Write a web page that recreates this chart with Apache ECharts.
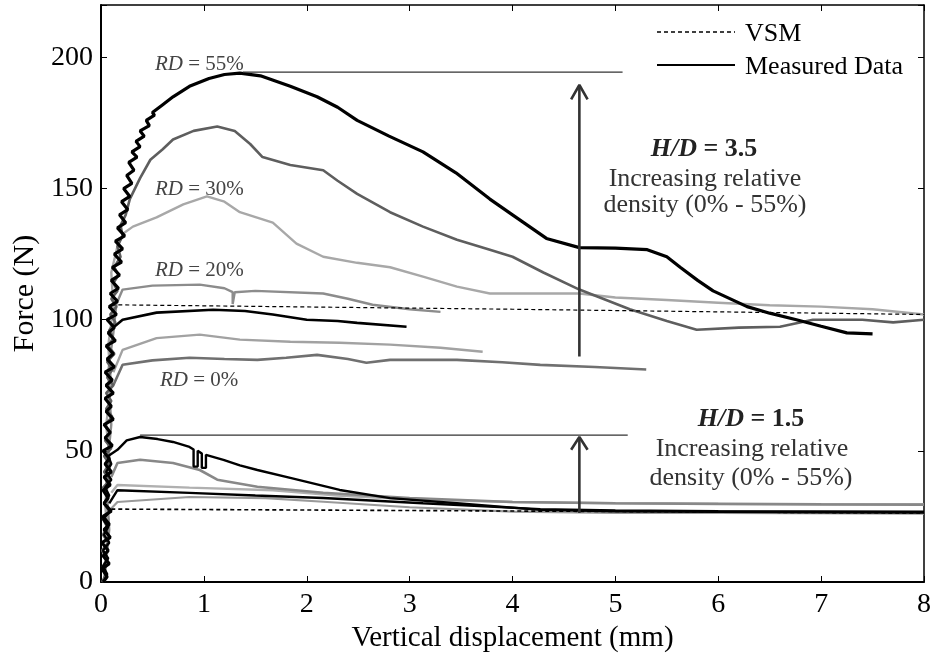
<!DOCTYPE html>
<html>
<head>
<meta charset="utf-8">
<script src="https://cdn.jsdelivr.net/npm/echarts@6/dist/echarts.min.js"></script>
<style>html,body{margin:0;padding:0;background:#fff}#c{width:936px;height:659px}</style>
</head>
<body>
<div id="c"></div>
<script>
// ---- axis ticks ----
const xTicks = [0, 1, 2, 3, 4, 5, 6, 7, 8];
const yTicks = [0, 50, 100, 150, 200];

// ---- H/D = 3.5 measured curves [displacement mm, force N] ----
const hd35_rd55 = [[0.02,0],[0.06,2],[0.01,5],[0.08,7],[0.02,10],[0.07,12],[0.01,15],[0.09,17],[0.03,20],[0.08,22],[0.02,25],[0.1,27],[0.03,30],[0.07,32],[0.02,35],[0.09,37],[0.03,40],[0.1,42],[0.04,45],[0.08,47],[0.02,50],[0.11,52],[0.04,55],[0.09,57],[0.03,60],[0.12,62],[0.05,65],[0.1,67],[0.04,70],[0.12,72],[0.05,75],[0.11,77],[0.04,80],[0.13,82],[0.06,85],[0.12,87],[0.05,90],[0.14,92],[0.07,95],[0.13,97],[0.06,100],[0.15,102],[0.08,105],[0.16,107],[0.09,110],[0.17,112],[0.1,115],[0.18,117],[0.11,120],[0.2,122],[0.13,125],[0.21,127],[0.14,130],[0.23,132],[0.16,135],[0.24,137],[0.18,140],[0.26,142],[0.2,145],[0.28,147],[0.22,150],[0.3,152],[0.25,155],[0.32,157],[0.27,160],[0.35,162],[0.3,164],[0.38,166],[0.34,168],[0.42,170],[0.38,172],[0.47,174],[0.44,176],[0.52,178],[0.5,179],[0.6,182],[0.7,185],[0.86,189],[1.05,192],[1.2,193.5],[1.35,194],[1.55,193],[1.84,189],[2.1,185],[2.3,181],[2.49,176],[2.8,170],[3.13,164],[3.45,156],[3.78,146],[4.0,140],[4.33,131],[4.65,127.5],[5.0,127.3],[5.31,126.7],[5.5,124],[5.63,120],[5.8,115],[5.95,111],[6.28,105],[6.5,102.5],[6.76,100],[7.0,97.5],[7.25,95],[7.5,94.6]];
const hd35_rd45 = [[0.01,0],[0.05,3],[0.02,6],[0.06,9],[0.01,12],[0.07,15],[0.02,18],[0.06,21],[0.02,24],[0.08,27],[0.03,30],[0.07,33],[0.02,36],[0.09,39],[0.03,42],[0.08,45],[0.03,48],[0.1,51],[0.04,54],[0.09,57],[0.04,60],[0.11,63],[0.05,66],[0.1,69],[0.05,72],[0.12,75],[0.06,78],[0.11,81],[0.06,84],[0.13,87],[0.07,90],[0.12,93],[0.08,96],[0.14,99],[0.09,102],[0.15,105],[0.1,108],[0.16,111],[0.12,114],[0.17,117],[0.13,120],[0.19,124],[0.16,128],[0.21,132],[0.19,136],[0.24,140],[0.28,146],[0.38,154],[0.48,161],[0.6,165],[0.7,168.7],[0.9,172],[1.13,173.7],[1.3,172],[1.45,167],[1.57,162],[1.84,159],[2.16,157],[2.3,153],[2.49,148],[2.81,141],[3.13,135.5],[3.46,130.5],[3.78,126.7],[4.0,124],[4.3,118],[4.65,111.5],[5.14,104],[5.5,99.5],[5.79,96.2],[6.2,97],[6.6,97.3],[6.92,100],[7.4,100],[7.7,99],[8.0,100]];
const hd35_rd30 = [[0.03,0],[0.07,15],[0.04,30],[0.09,45],[0.05,60],[0.1,75],[0.07,90],[0.12,105],[0.1,118],[0.16,128],[0.22,133],[0.31,135.5],[0.54,139],[0.8,144],[1.03,147],[1.2,145],[1.35,141],[1.67,137],[1.9,129],[2.16,124],[2.49,121.7],[2.81,120],[3.13,116.4],[3.46,112.6],[3.78,110],[4.2,110],[4.65,110],[5.0,108.5],[5.5,107.5],[6.0,106.5],[6.5,105.5],[7.0,105],[7.5,104],[8.0,102]];
const hd35_rd20 = [[0.03,0],[0.08,20],[0.05,40],[0.1,60],[0.07,80],[0.12,95],[0.15,106],[0.21,111.5],[0.5,113],[0.96,113.4],[1.2,112],[1.28,110.5],[1.28,106],[1.3,110.5],[1.5,111],[2.16,110],[2.4,108],[2.64,105.7],[3.0,104],[3.3,103]];
const hd35_rd10 = [[0.12,97],[0.21,100],[0.54,102.7],[1.09,103.8],[1.4,103.3],[1.67,102],[2.0,100],[2.3,99.5],[2.49,98.8],[2.97,97.3]];
const hd35_rd5 = [[0.12,80],[0.21,88.5],[0.54,93],[0.96,94.3],[1.35,92.4],[1.84,91.6],[2.32,91.2],[2.81,90.5],[3.3,89.3],[3.71,87.8]];
const hd35_rd0 = [[0.12,75],[0.21,82.8],[0.5,84.5],[0.86,85.5],[1.2,85],[1.52,84.7],[1.8,85.5],[2.1,86.6],[2.4,85],[2.58,83.6],[2.81,84.7],[3.1,84.7],[3.46,84.7],[3.9,83.8],[4.27,82.8],[4.8,82],[5.3,81]];
const hd35_vsm = [[0.1,105.7],[4.0,104],[8.0,102]];

// ---- H/D = 1.5 measured curves ----
const hd15_a = [[0.03,0],[0.06,3],[0.02,6],[0.07,9],[0.02,12],[0.08,15],[0.03,18],[0.07,21],[0.02,24],[0.09,27],[0.03,30],[0.08,33],[0.04,36],[0.1,39],[0.05,42],[0.1,45],[0.07,48],[0.16,50.4],[0.25,54],[0.38,55.3],[0.55,54.5],[0.7,53.4],[0.86,51.5],[0.9,50.5],[0.9,44],[0.94,44],[0.94,50],[0.98,49],[0.98,43.5],[1.02,43.5],[1.02,48.5],[1.19,46.6],[1.35,44.5],[1.52,42.7],[1.84,39.7],[2.32,35.1],[2.81,32],[3.46,30],[4.27,27.5],[5.0,27],[6.0,26.8],[7.0,26.6],[8.0,26.5]];
const hd15_b = [[0.08,30],[0.16,35],[0.86,34],[1.5,33],[2.16,32],[3.13,30],[4.27,27.8],[5.0,27.3],[6.0,27],[8.0,26.8]];
const hd15_c = [[0.1,40],[0.16,45.4],[0.38,46.6],[0.7,45.4],[0.96,42.7],[1.13,39],[1.52,36.3],[2.16,34],[3.0,32],[4.0,30.5],[5.0,30],[6.0,29.8],[7.0,29.6],[8.0,29.5]];
const hd15_d = [[0.1,34],[0.16,37],[0.86,36],[1.67,35],[2.3,33],[3.0,31.5],[4.0,30.5],[5.0,30],[6.0,29.8],[8.0,29.6]];
const hd15_e = [[0.1,28],[0.16,30.5],[0.86,32.4],[1.6,32],[2.2,30.5],[3.0,28.5],[4.0,26.8],[5.0,26.3],[6.0,26.3],[8.0,26.1]];
const hd15_vsm = [[0.1,27.8],[8.0,26.3]];

// ---- annotation guides ----
const peak35 = [[1.38,194.4],[5.07,194.4]];
const peak15 = [[0.38,56],[5.12,56]];
const arrow35 = [[4.65,86],[4.65,189]];
const arrow35Head = [[4.57,184],[4.65,189.5],[4.73,184]];
const arrow15 = [[4.65,26.3],[4.65,55]];
const arrow15Head = [[4.57,50.4],[4.65,55.3],[4.73,50.4]];

// ---- legend entries ----
const legendNames = ['VSM', 'Measured Data'];

const FONT = "'Liberation Serif', 'Times New Roman', serif";

function curve(name, data, color, width, dashed, z) {
  return {
    type: 'line', name: name, data: data, showSymbol: false, symbol: 'none',
    animation: false, silent: true, z: z || 2,
    lineStyle: { color: color, width: width, type: dashed ? [4, 3] : 'solid' },
    itemStyle: { color: color }
  };
}

const series = [
  curve('Measured Data', hd35_rd55, '#000000', 3.2, false, 6),
  curve('Measured Data', hd35_rd45, '#5e5e5e', 2.6, false, 5),
  curve('Measured Data', hd35_rd30, '#a8a8a8', 2.4, false, 4),
  curve('Measured Data', hd35_rd20, '#8c8c8c', 2.4, false, 4),
  curve('Measured Data', hd35_rd10, '#000000', 2.6, false, 5),
  curve('Measured Data', hd35_rd5, '#a2a2a2', 2.4, false, 4),
  curve('Measured Data', hd35_rd0, '#707070', 2.6, false, 4),
  curve('VSM', hd35_vsm, '#000000', 1.2, true, 7),
  curve('Measured Data', hd15_e, '#9a9a9a', 2.2, false, 3),
  curve('Measured Data', hd15_d, '#b0b0b0', 2.4, false, 3),
  curve('Measured Data', hd15_c, '#888888', 2.6, false, 4),
  curve('Measured Data', hd15_b, '#000000', 2.4, false, 5),
  curve('Measured Data', hd15_a, '#000000', 2.4, false, 6),
  curve('VSM', hd15_vsm, '#000000', 1.6, true, 7),
  curve('guide', peak35, '#333333', 1.2, false, 8),
  curve('guide', peak15, '#333333', 1.2, false, 8),
  curve('guide', arrow35, '#333333', 2.6, false, 8),
  curve('guide', arrow35Head, '#333333', 2.6, false, 8),
  curve('guide', arrow15, '#333333', 2.6, false, 8),
  curve('guide', arrow15Head, '#333333', 2.6, false, 8)
];

const axisCommon = {
  type: 'value', splitLine: { show: false },
  axisLine: { show: true, onZero: false, lineStyle: { color: '#000', width: 2 } },
  axisTick: { show: true, inside: true, length: 6, lineStyle: { color: '#000', width: 1 } }
};

function richText(x, y, text, opts) {
  return Object.assign({ type: 'text', x: x, y: y, z: 100, silent: true }, { style: Object.assign({ text: text, fontFamily: FONT }, opts) });
}

const chart = echarts.init(document.getElementById('c'), null, { renderer: 'canvas' });
chart.setOption({
  animation: false,
  backgroundColor: '#ffffff',
  grid: { left: 101, right: 12, top: 5, bottom: 77 },
  xAxis: [
    Object.assign({}, axisCommon, {
      min: xTicks[0], max: xTicks[xTicks.length - 1], interval: 1, position: 'bottom',
      name: 'Vertical displacement (mm)', nameLocation: 'middle', nameGap: 39,
      nameTextStyle: { fontFamily: FONT, fontSize: 29, color: '#000' },
      axisLabel: { fontFamily: FONT, fontSize: 28, color: '#000', margin: 9 }
    }),
    Object.assign({}, axisCommon, {
      min: xTicks[0], max: xTicks[xTicks.length - 1], interval: 1, position: 'top',
      axisLine: { show: true, onZero: false, lineStyle: { color: '#000', width: 1.5 } },
      axisLabel: { show: false }
    })
  ],
  yAxis: [
    Object.assign({}, axisCommon, {
      min: 0, max: 220, interval: 50, position: 'left',
      name: 'Force (N)', nameLocation: 'middle', nameGap: 60,
      nameTextStyle: { fontFamily: FONT, fontSize: 30, color: '#000' },
      axisLabel: { fontFamily: FONT, fontSize: 28, color: '#000', margin: 8,
        formatter: function (v) { return yTicks.indexOf(v) >= 0 ? String(v) : ''; } }
    }),
    Object.assign({}, axisCommon, {
      min: 0, max: 220, interval: 50, position: 'right',
      axisLine: { show: true, onZero: false, lineStyle: { color: '#000', width: 1.5 } },
      axisLabel: { show: false }
    })
  ],
  series: series,
  graphic: [
    // legend (drawn as line + text)
    { type: 'line', z: 100, silent: true, shape: { x1: 657, y1: 32, x2: 735, y2: 32 }, style: { stroke: '#000', lineWidth: 1.3, lineDash: [4, 3] } },
    richText(745, 34, legendNames[0], { fontSize: 26, fill: '#000', verticalAlign: 'middle' }),
    { type: 'line', z: 100, silent: true, shape: { x1: 657, y1: 65, x2: 735, y2: 65 }, style: { stroke: '#000', lineWidth: 2 } },
    richText(745, 67, legendNames[1], { fontSize: 26, fill: '#000', verticalAlign: 'middle' }),
    // RD labels
    richText(155, 64, '{i|RD} = 55%', { fontSize: 21, fill: '#444', verticalAlign: 'middle', rich: { i: { fontStyle: 'italic', fontFamily: FONT, fontSize: 21, fill: '#444' } } }),
    richText(155, 189, '{i|RD} = 30%', { fontSize: 21, fill: '#444', verticalAlign: 'middle', rich: { i: { fontStyle: 'italic', fontFamily: FONT, fontSize: 21, fill: '#444' } } }),
    richText(155, 270, '{i|RD} = 20%', { fontSize: 21, fill: '#444', verticalAlign: 'middle', rich: { i: { fontStyle: 'italic', fontFamily: FONT, fontSize: 21, fill: '#444' } } }),
    richText(160, 380, '{i|RD} = 0%', { fontSize: 21, fill: '#444', verticalAlign: 'middle', rich: { i: { fontStyle: 'italic', fontFamily: FONT, fontSize: 21, fill: '#444' } } }),
    // H/D blocks
    richText(704, 149, '{i|H/D} = 3.5', { fontSize: 26, fontWeight: 'bold', fill: '#222', align: 'center', verticalAlign: 'middle', rich: { i: { fontStyle: 'italic', fontWeight: 'bold', fontFamily: FONT, fontSize: 26, fill: '#222' } } }),
    richText(705, 179, 'Increasing relative', { fontSize: 26, fill: '#333', align: 'center', verticalAlign: 'middle' }),
    richText(705, 205, 'density (0% - 55%)', { fontSize: 26, fill: '#333', align: 'center', verticalAlign: 'middle' }),
    richText(751, 419, '{i|H/D} = 1.5', { fontSize: 26, fontWeight: 'bold', fill: '#222', align: 'center', verticalAlign: 'middle', rich: { i: { fontStyle: 'italic', fontWeight: 'bold', fontFamily: FONT, fontSize: 26, fill: '#222' } } }),
    richText(752, 449, 'Increasing relative', { fontSize: 26, fill: '#333', align: 'center', verticalAlign: 'middle' }),
    richText(751, 478, 'density (0% - 55%)', { fontSize: 26, fill: '#333', align: 'center', verticalAlign: 'middle' })
  ]
});
</script>
</body>
</html>
